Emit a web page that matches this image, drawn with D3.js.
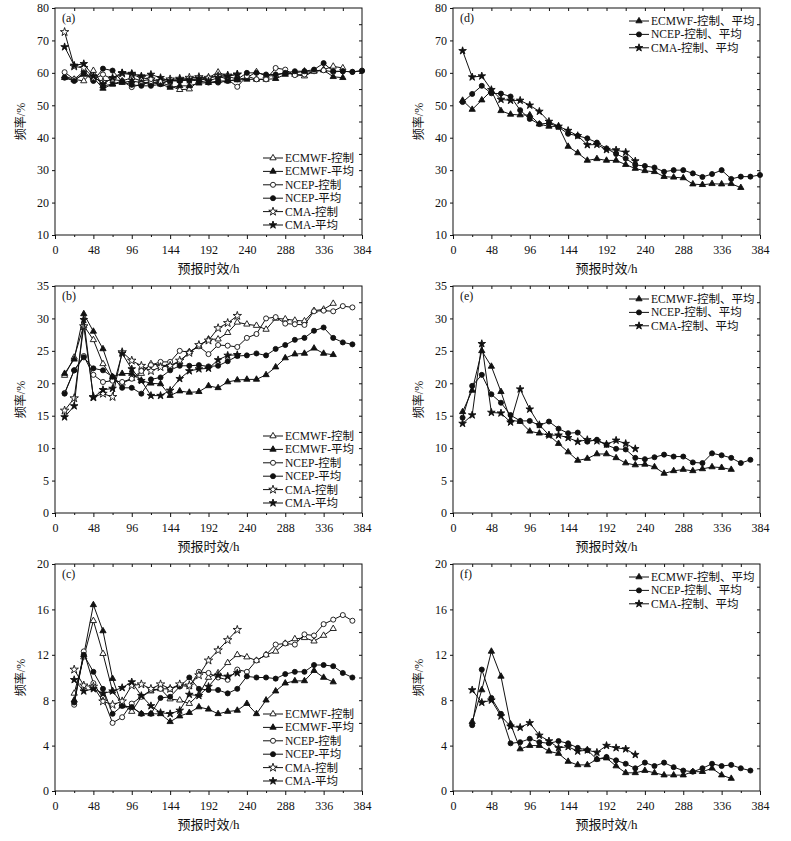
<!DOCTYPE html>
<html>
<head>
<meta charset="utf-8">
<script src="https://cdn.jsdelivr.net/npm/d3@7"></script>
<style>
body { margin: 0; background: #fff; }
text { font-family: "Liberation Serif", "Noto Sans CJK SC", serif; fill: #111; }
</style>
</head>
<body>
<svg id="fig" width="791" height="841"></svg>
<script>
// lead times (h); each value array below is aligned with it, null = no point
var leadHours = [12, 24, 36, 48, 60, 72, 84, 96, 108, 120, 132, 144, 156, 168, 180, 192,
                 204, 216, 228, 240, 252, 264, 276, 288, 300, 312, 324, 336, 348, 360, 372, 384];
var xTickValues = [0, 48, 96, 144, 192, 240, 288, 336, 384];

// (a)
var aEcCtrl = [59.0, 58.0, 57.5, 60.7, 56.0, 56.5, 57.5, 58.5, 57.5, 58.0, 57.0, 56.0, 54.8, 55.0, 57.5, 58.5,
               60.2, 59.0, 58.0, 58.5, 60.3, 59.0, 59.2, 60.0, 59.5, 59.0, 60.5, 61.0, 62.0, 61.5];
var aEcMean = [58.5, 57.8, 59.5, 58.5, 55.2, 56.5, 57.0, 57.5, 57.0, 57.0, 56.5, 55.5, 56.0, 56.0, 56.8, 57.0,
               57.5, 57.5, 57.8, 58.0, 58.0, 58.0, 58.2, 59.5, 60.0, 60.5, 60.5, 60.8, 58.8, 58.5];
var aNcCtrl = [60.2, 58.0, 60.5, 58.0, 59.5, 58.0, 57.5, 55.6, 56.5, 57.0, 57.0, 57.5, 57.5, 58.0, 58.0, 58.5,
               59.0, 58.0, 55.7, 59.0, 58.0, 58.0, 61.5, 61.0, 59.3, 59.5, 60.5, 60.8, 60.3, 60.5, 60.3, 60.7];
var aNcMean = [58.5, 57.5, 60.0, 57.5, 61.3, 60.7, 57.3, 56.3, 56.0, 56.0, 56.5, 57.8, 57.5, 57.8, 57.5, 57.0,
               57.0, 57.5, 58.0, 60.0, 60.0, 59.5, 59.5, 60.0, 60.5, 60.5, 61.0, 63.0, 60.5, 60.5, 60.3, 60.6];
var aCmaCtrl = [72.6, 62.0, 61.5, 58.5, 57.2, 58.0, 59.8, 59.5, 58.5, 58.0, 57.5, 58.0, 58.2, 58.5, 58.7, 58.5,
                59.0, 59.2, 59.5];
var aCmaMean = [68.0, 62.3, 62.8, 59.0, 56.5, 58.5, 60.0, 59.8, 59.0, 59.5, 58.5, 57.5, 58.0, 57.8, 58.3, 57.5,
                58.5, 59.0, 59.5];

// (b)
var bEcCtrl = [21.2, 24.0, 28.9, 26.7, 23.0, 20.7, 20.0, 20.7, 21.5, 23.0, 22.8, 22.7, 23.3, 24.8, 25.8, 26.8,
               26.8, 27.8, 29.4, 29.1, 28.9, 28.3, 30.0, 29.9, 29.7, 29.6, 31.2, 31.4, 32.3];
var bEcMean = [21.5, 23.7, 30.7, 28.0, 25.3, 21.0, 21.5, 21.5, 20.4, 20.0, 19.9, 18.1, 18.8, 18.6, 18.7, 19.6,
               19.3, 20.2, 20.5, 20.6, 20.6, 21.3, 22.5, 23.9, 24.5, 24.6, 25.4, 24.6, 24.4];
var bNcCtrl = [18.5, 22.0, 24.2, 21.3, 20.2, 20.4, 20.2, 20.7, 21.9, 22.8, 23.3, 23.3, 25.0, 24.8, 25.7, 24.5,
               25.9, 25.8, 25.6, 27.0, 27.6, 30.0, 30.2, 29.2, 29.1, 29.0, 31.1, 31.2, 31.1, 31.9, 31.7];
var bNcMean = [18.4, 22.0, 24.0, 22.3, 22.0, 21.0, 19.3, 19.3, 18.4, 20.6, 20.9, 22.0, 22.7, 22.7, 22.8, 22.6,
               22.7, 23.4, 24.2, 24.3, 24.6, 24.3, 25.3, 25.9, 26.7, 27.0, 28.1, 28.6, 27.0, 26.3, 26.0];
var bCmaCtrl = [15.8, 17.7, 28.8, 17.9, 18.4, 17.9, 24.8, 23.5, 22.7, 21.9, 22.5, 22.7, 23.5, 24.7, 25.9, 26.6,
                28.5, 29.3, 30.4];
var bCmaMean = [14.8, 16.5, 29.8, 17.8, 19.0, 19.2, 24.6, 22.2, 20.4, 18.1, 18.1, 18.9, 20.7, 21.9, 22.2, 22.3,
                23.6, 24.3, 24.4];

// (c)
var cEcCtrl = [null, 8.6, 11.8, 15.0, 12.1, 8.8, 7.7, 7.0, 8.3, 8.8, 9.0, 8.1, 8.0, 7.7, 8.5, 10.0,
               10.4, 11.3, 12.0, 11.8, 11.5, 12.0, 12.3, 13.0, 13.4, 13.5, 13.2, 13.7, 14.3];
var cEcMean = [null, 8.0, 12.0, 16.4, 14.1, 9.9, 7.5, 7.4, 6.8, 6.8, 6.8, 6.1, 6.6, 6.9, 7.4, 7.2,
               6.8, 7.0, 7.1, 7.7, 6.8, 8.0, 8.8, 9.5, 9.7, 9.7, 10.6, 10.0, 9.6];
var cNcCtrl = [null, 7.6, 12.3, 9.5, 8.2, 6.0, 6.5, 7.7, 8.3, 8.9, 9.0, 9.0, 9.3, 9.2, 10.5, 10.4,
               10.0, 9.8, 10.7, 10.5, 11.5, 12.0, 12.9, 13.0, 12.9, 13.8, 13.7, 14.7, 15.1, 15.5, 15.0];
var cNcMean = [null, 7.8, 12.0, 10.5, 9.0, 6.8, 7.5, 7.4, 6.8, 6.8, 8.2, 8.3, 9.2, 10.0, 9.0, 8.9,
               8.9, 8.6, 9.0, 10.1, 10.0, 10.0, 9.9, 10.3, 10.5, 10.5, 11.1, 11.1, 11.0, 10.4, 10.0];
var cCmaCtrl = [null, 10.7, 9.3, 9.2, 7.9, 7.6, 7.9, 9.3, 9.4, 9.0, 9.4, 9.0, 9.4, 9.3, 10.2, 11.5,
                12.4, 13.3, 14.2];
var cCmaMean = [null, 9.8, 8.8, 9.0, 8.6, 8.8, 9.1, 9.6, 8.4, 7.5, 6.9, 6.8, 7.1, 8.5, 8.4, 9.2,
                10.2, 10.1, 10.4];

// (d)
var dEc = [51.5, 48.7, 51.6, 54.5, 48.3, 47.2, 47.0, 47.0, 44.2, 43.5, 43.5, 37.3, 35.3, 33.0, 33.5, 33.0,
           33.0, 31.7, 30.5, 29.8, 29.5, 28.0, 27.8, 27.6, 25.7, 25.5, 25.8, 25.7, 25.8, 24.6];
var dNc = [51.0, 53.5, 56.0, 53.7, 53.6, 52.7, 48.5, 45.8, 44.2, 44.5, 43.3, 41.2, 40.6, 39.8, 38.5, 36.7,
           35.0, 33.6, 31.6, 31.3, 30.8, 29.5, 30.0, 30.0, 29.0, 27.9, 28.8, 30.0, 27.3, 28.0, 28.0, 28.5];
var dCma = [66.8, 58.7, 59.0, 54.8, 51.8, 51.5, 51.5, 50.0, 48.1, 45.0, 43.5, 42.2, 40.6, 37.8, 37.9, 36.3,
            36.2, 35.5, 32.8];

// (e)
var eEc = [15.6, 18.9, 25.0, 22.6, 18.7, 14.3, 14.1, 12.6, 12.3, 12.0, 10.7, 9.4, 8.1, 8.4, 9.1, 9.1,
           8.5, 7.7, 7.4, 7.5, 7.1, 6.1, 6.5, 6.7, 6.5, 6.8, 7.1, 7.0, 6.7];
var eNc = [14.7, 19.6, 21.3, 18.3, 17.0, 15.1, 14.2, 14.2, 13.5, 14.1, 13.0, 12.3, 12.4, 11.0, 11.3, 10.5,
           9.9, 9.8, 8.5, 8.3, 8.6, 9.0, 8.7, 8.7, 7.8, 7.7, 9.2, 8.9, 8.5, 7.7, 8.2];
var eCma = [13.8, 15.1, 26.1, 15.5, 15.4, 14.0, 19.1, 16.0, 13.6, 12.0, 12.0, 11.6, 11.0, 11.3, 11.1, 10.6,
            11.2, 10.7, 9.9];

// (f)
var fEc = [null, 6.1, 8.9, 12.3, 10.1, 5.9, 3.7, 4.0, 4.0, 3.5, 3.3, 2.6, 2.3, 2.3, 2.8, 2.9,
           2.2, 1.6, 1.6, 1.8, 1.6, 1.4, 1.4, 1.4, 1.7, 1.7, 2.0, 1.4, 1.1];
var fNc = [null, 5.8, 10.7, 8.2, 6.8, 4.2, 4.3, 4.6, 4.3, 4.2, 4.4, 4.2, 3.8, 3.6, 2.8, 3.0,
           2.7, 2.4, 2.0, 2.5, 2.2, 2.5, 2.1, 1.8, 1.7, 2.0, 2.4, 2.2, 2.3, 2.0, 1.8];
var fCma = [null, 8.9, 7.8, 8.0, 6.6, 5.7, 5.6, 6.0, 4.9, 4.4, 3.8, 3.9, 3.5, 3.6, 3.4, 4.0,
            3.8, 3.7, 3.2];

var aTicks = [10, 20, 30, 40, 50, 60, 70, 80];
var bTicks = [0, 5, 10, 15, 20, 25, 30, 35];
var cTicks = [0, 4, 8, 12, 16, 20];

var legendSix = ["ECMWF-控制", "ECMWF-平均", "NCEP-控制", "NCEP-平均", "CMA-控制", "CMA-平均"];
var legendThree = ["ECMWF-控制、平均", "NCEP-控制、平均", "CMA-控制、平均"];

// marker styles
var triOpen  = {type: d3.symbolTriangle, size: 17, fill: "#fff"};
var triFull  = {type: d3.symbolTriangle, size: 17, fill: "#111"};
var cirOpen  = {type: d3.symbolCircle, size: 20, fill: "#fff"};
var cirFull  = {type: d3.symbolCircle, size: 20, fill: "#111"};
var starOpen = {type: d3.symbolStar, size: 22, fill: "#fff"};
var starFull = {type: d3.symbolStar, size: 18, fill: "#111"};

var W = 307, H = 227;
var cols = [55, 453];
var rows = [8, 286, 564];

var panels = [
    {label: "(a)", col: 0, row: 0, ticks: aTicks, minor: 5,
     series: [aEcCtrl, aEcMean, aNcCtrl, aNcMean, aCmaCtrl, aCmaMean],
     marks: [triOpen, triFull, cirOpen, cirFull, starOpen, starFull], names: legendSix},
    {label: "(b)", col: 0, row: 1, ticks: bTicks, minor: 2.5,
     series: [bEcCtrl, bEcMean, bNcCtrl, bNcMean, bCmaCtrl, bCmaMean],
     marks: [triOpen, triFull, cirOpen, cirFull, starOpen, starFull], names: legendSix},
    {label: "(c)", col: 0, row: 2, ticks: cTicks, minor: 2,
     series: [cEcCtrl, cEcMean, cNcCtrl, cNcMean, cCmaCtrl, cCmaMean],
     marks: [triOpen, triFull, cirOpen, cirFull, starOpen, starFull], names: legendSix},
    {label: "(d)", col: 1, row: 0, ticks: aTicks, minor: 5,
     series: [dEc, dNc, dCma], marks: [triFull, cirFull, starFull], names: legendThree},
    {label: "(e)", col: 1, row: 1, ticks: bTicks, minor: 2.5,
     series: [eEc, eNc, eCma], marks: [triFull, cirFull, starFull], names: legendThree},
    {label: "(f)", col: 1, row: 2, ticks: cTicks, minor: 2,
     series: [fEc, fNc, fCma], marks: [triFull, cirFull, starFull], names: legendThree}
];

var svg = d3.select("#fig");
svg.append("rect").attr("width", 791).attr("height", 841).attr("fill", "#fff");

var drawPanel = function(p) {
    var g = svg.append("g").attr("transform", "translate(" + cols[p.col] + "," + rows[p.row] + ")");
    var yMin = p.ticks[0], yMax = p.ticks[p.ticks.length - 1];
    var x = d3.scaleLinear().domain([0, 384]).range([0, W]);
    var y = d3.scaleLinear().domain([yMin, yMax]).range([H, 0]);

    // axes: labelled bottom/left, bare ticks inside on top/right
    g.append("g").attr("class", "ax").attr("transform", "translate(0," + H + ")")
        .call(d3.axisBottom(x).tickValues(xTickValues).tickSize(4).tickSizeOuter(0).tickPadding(6));
    g.append("g").attr("class", "ax").attr("transform", "translate(0," + H + ")")
        .call(d3.axisBottom(x).tickValues(d3.range(24, 384, 48)).tickSize(2).tickSizeOuter(0).tickFormat(""));
    g.append("g").attr("class", "ax")
        .call(d3.axisLeft(y).tickValues(p.ticks).tickSize(3).tickSizeOuter(0).tickPadding(3));
    g.append("g").attr("class", "ax")
        .call(d3.axisTop(x).tickValues(d3.range(24, 384, 24)).tickSize(-3).tickSizeOuter(0).tickFormat(""));
    g.append("g").attr("class", "ax").attr("transform", "translate(" + W + ",0)")
        .call(d3.axisRight(y).tickValues(d3.range(yMin + p.minor, yMax, p.minor)).tickSize(-3)
            .tickSizeOuter(0).tickFormat(""));
    g.selectAll(".ax text").style("font-size", "12px").style("font-family", "Liberation Serif, serif");
    g.selectAll(".ax line").attr("stroke", "#111");
    g.selectAll(".ax path").attr("stroke", "none");
    g.append("rect").attr("width", W).attr("height", H)
        .attr("fill", "none").attr("stroke", "#111").attr("stroke-width", 1);

    // axis titles
    g.append("text").attr("x", W / 2).attr("y", H + 38).attr("text-anchor", "middle")
        .style("font-size", "13px").text("预报时效/h");
    g.append("text").attr("transform", "translate(-30," + (H / 2) + ") rotate(-90)")
        .attr("text-anchor", "middle").style("font-size", "12px").text("频率/%");
    g.append("text").attr("x", 7).attr("y", 14).style("font-size", "12px").text(p.label);

    var line = d3.line()
        .defined(function(d) { return d.v !== null; })
        .x(function(d) { return x(d.h); })
        .y(function(d) { return y(d.v); });

    p.series.forEach(function(vals, i) {
        var pts = vals.map(function(v, k) { return {h: leadHours[k], v: v}; });
        g.append("path").datum(pts).attr("d", line)
            .attr("fill", "none").attr("stroke", "#111").attr("stroke-width", 1);
        var m = p.marks[i];
        g.selectAll(null).data(pts.filter(function(d) { return d.v !== null; })).enter()
            .append("path")
            .attr("d", d3.symbol().type(m.type).size(m.size))
            .attr("transform", function(d) { return "translate(" + x(d.h) + "," + y(d.v) + ")"; })
            .attr("fill", m.fill).attr("stroke", "#111").attr("stroke-width", 0.9);
    });

    // legend
    var lx = p.col === 0 ? 208 : 176;
    var ly = p.col === 0 ? 150 : 13;
    p.names.forEach(function(name, i) {
        var yy = ly + i * 13.4;
        var m = p.marks[i];
        g.append("line").attr("x1", lx).attr("x2", lx + 20).attr("y1", yy).attr("y2", yy)
            .attr("stroke", "#111").attr("stroke-width", 1);
        g.append("path").attr("d", d3.symbol().type(m.type).size(m.size))
            .attr("transform", "translate(" + (lx + 10) + "," + yy + ")")
            .attr("fill", m.fill).attr("stroke", "#111").attr("stroke-width", 0.9);
        g.append("text").attr("x", lx + 22).attr("y", yy + 4).style("font-size", "11.5px").text(name);
    });
};

panels.forEach(drawPanel);
</script>
</body>
</html>
